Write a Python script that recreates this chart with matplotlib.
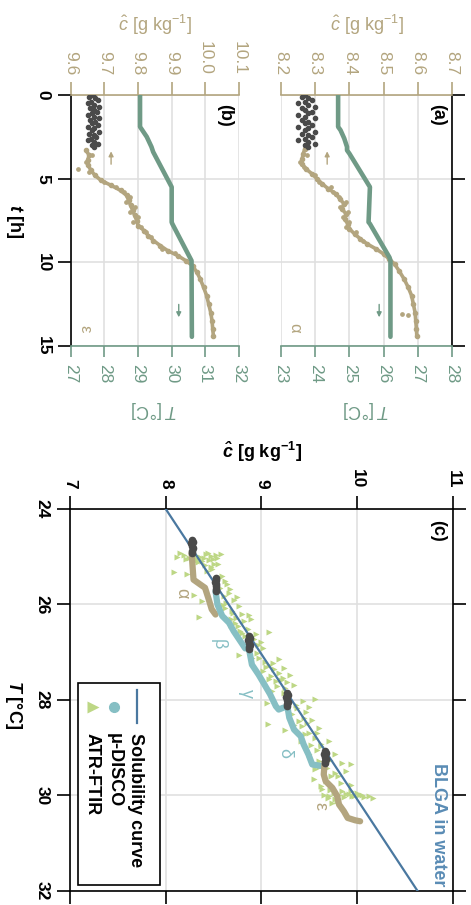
import matplotlib
matplotlib.use('Agg')
import matplotlib.pyplot as plt
import matplotlib.transforms as mtransforms
from matplotlib.patches import Rectangle
from matplotlib.lines import Line2D

plt.rcParams['font.family'] = ['Liberation Sans', 'DejaVu Sans']
plt.rcParams['mathtext.fontset'] = 'custom'
plt.rcParams['mathtext.rm'] = 'Liberation Sans'
plt.rcParams['mathtext.it'] = 'Liberation Sans:italic'
plt.rcParams['mathtext.bf'] = 'Liberation Sans:bold'
plt.rcParams['mathtext.bfit'] = 'Liberation Sans:italic:bold'

# colours
tan = '#b3a57f'
green = '#6f9a86'
dark = '#4a4a4a'
teal = '#86bfc4'
atr_col = '#bdd785'
blue = '#4a78a0'
gridc = '#e0e0e0'

# ---- panel (a): experiment alpha ----
t_gray_a = [0.0, 0.1, 0.2, 0.3, 0.4, 0.5, 0.6, 0.7, 0.8, 0.9, 1.0, 1.1, 1.2, 1.3, 1.4, 1.5,
            1.6, 1.7, 1.8, 1.9, 2.0, 2.1, 2.2, 2.3, 2.4, 2.5, 2.6, 2.7, 2.8, 2.9, 3.0, 3.1]
c_gray_a = [8.27, 8.26, 8.28, 8.29, 8.27, 8.25, 8.28, 8.30, 8.26, 8.27, 8.29, 8.28, 8.25, 8.27, 8.30, 8.26,
            8.28, 8.27, 8.29, 8.25, 8.28, 8.27, 8.30, 8.26, 8.28, 8.29, 8.27, 8.25, 8.28, 8.30, 8.27, 8.28]
t_tan_a = [3.2, 3.5, 3.8, 4.1, 4.4, 4.7, 5.0, 5.3, 5.6, 5.9, 6.2, 6.5, 6.8, 7.1, 7.4, 7.7, 8.0,
           8.3, 8.6, 8.9, 9.2, 9.5, 9.8, 10.1, 10.5, 11.0, 11.5, 12.0, 12.5, 13.0, 13.5, 14.0, 14.4]
c_tan_a = [8.27, 8.265, 8.262, 8.26, 8.272, 8.29, 8.305, 8.32, 8.338, 8.36, 8.372, 8.384, 8.378, 8.39,
           8.386, 8.395, 8.40, 8.415, 8.432, 8.452, 8.478, 8.50, 8.516, 8.532, 8.545, 8.56, 8.572,
           8.582, 8.587, 8.592, 8.594, 8.596, 8.597]
t_tan_a_x = [3.6, 4.0, 4.3, 4.8, 5.2, 5.5, 5.8, 6.1, 6.4, 6.7, 7.0, 7.3, 7.6, 7.9, 8.2, 8.7, 13.1, 13.15]
c_tan_a_x = [8.275, 8.255, 8.268, 8.30, 8.31, 8.345, 8.352, 8.37, 8.39, 8.372, 8.395, 8.382, 8.40, 8.39,
             8.42, 8.44, 8.555, 8.57]
t_T_a = [0, 1.9, 2.1, 2.6, 3.1, 3.3, 3.5, 5.5, 7.6, 7.7, 9.7, 9.9, 14.45]
T_a = [24.67, 24.67, 24.74, 24.85, 24.93, 24.93, 25.0, 25.6, 25.56, 25.6, 26.17, 26.2, 26.2]

# ---- panel (b): experiment epsilon ----
t_gray_b = t_gray_a
c_gray_b = [9.665, 9.655, 9.672, 9.680, 9.660, 9.650, 9.668, 9.685, 9.658, 9.670, 9.678, 9.662, 9.652,
            9.668, 9.684, 9.657, 9.672, 9.664, 9.680, 9.650, 9.670, 9.662, 9.683, 9.655, 9.670, 9.676,
            9.660, 9.650, 9.668, 9.682, 9.664, 9.670]
t_tan_b = [3.3, 3.6, 3.9, 4.2, 4.5, 4.8, 5.1, 5.4, 5.7, 6.0, 6.3, 6.6, 6.9, 7.2, 7.5, 7.8, 8.1, 8.4,
           8.7, 9.0, 9.3, 9.6, 9.9, 10.2, 10.6, 11.0, 11.5, 12.0, 12.5, 13.0, 13.5, 14.0, 14.4]
c_tan_b = [9.645, 9.655, 9.650, 9.652, 9.66, 9.672, 9.69, 9.72, 9.748, 9.766, 9.772, 9.778, 9.784, 9.79,
           9.796, 9.80, 9.818, 9.83, 9.846, 9.866, 9.888, 9.918, 9.942, 9.962, 9.975, 9.985, 9.995,
           10.004, 10.01, 10.016, 10.02, 10.022, 10.024]
t_tan_b_x = [3.6, 4.0, 4.4, 4.6, 5.2, 5.5, 5.8, 6.1, 6.4, 6.7, 7.0, 7.3, 7.6, 7.9, 8.2, 8.5, 9.2, 9.45]
c_tan_b_x = [9.662, 9.645, 9.622, 9.655, 9.70, 9.735, 9.758, 9.775, 9.765, 9.792, 9.776, 9.80, 9.786,
             9.81, 9.825, 9.84, 9.872, 9.91]
t_T_b = [0, 1.9, 2.5, 3.1, 3.4, 5.5, 7.6, 7.7, 9.9, 14.45]
T_b = [29.06, 29.06, 29.26, 29.4, 29.45, 30.0, 30.0, 30.02, 30.59, 30.6]

# ---- panel (c): concentration vs temperature ----
sol_T = [24, 32]
sol_c = [8.0, 10.63]

gray_c = [8.27, 8.28, 8.26, 8.27, 8.28, 8.27, 8.27,
          8.52, 8.53, 8.51, 8.52, 8.53, 8.52, 8.52,
          8.87, 8.88, 8.86, 8.87, 8.88, 8.87, 8.87,
          9.27, 9.28, 9.26, 9.27, 9.28, 9.27, 9.27,
          9.66, 9.67, 9.65, 9.66, 9.67, 9.66, 9.66]
gray_T = [24.64, 24.69, 24.72, 24.77, 24.82, 24.87, 24.92,
          25.44, 25.49, 25.53, 25.58, 25.62, 25.67, 25.72,
          26.66, 26.71, 26.75, 26.80, 26.85, 26.89, 26.94,
          27.85, 27.90, 27.94, 27.99, 28.04, 28.08, 28.13,
          29.06, 29.10, 29.14, 29.19, 29.23, 29.27, 29.31]

alpha_c = [8.27, 8.29, 8.36, 8.41, 8.45, 8.48, 8.52]
alpha_T = [24.92, 25.48, 25.58, 25.65, 25.9, 26.1, 26.21]
beta_c = [8.52, 8.54, 8.59, 8.66, 8.71, 8.78, 8.83]
beta_T = [25.72, 26.0, 26.24, 26.38, 26.56, 26.77, 26.92]
gamma_c = [8.87, 8.90, 8.97, 9.02, 9.09, 9.15, 9.18, 9.23]
gamma_T = [26.94, 27.26, 27.47, 27.64, 27.88, 28.13, 28.2, 28.16]
delta_c = [9.27, 9.29, 9.34, 9.41, 9.44, 9.49, 9.53, 9.62]
delta_T = [28.13, 28.37, 28.62, 28.76, 28.93, 29.14, 29.35, 29.38]
eps_c = [9.66, 9.65, 9.67, 9.74, 9.79, 9.81, 9.86, 9.9, 9.98, 10.03]
eps_T = [29.31, 29.56, 29.7, 29.84, 30.01, 30.19, 30.33, 30.47, 30.52, 30.54]

atr_c = [8.12, 8.19, 8.24, 8.31, 8.36, 8.42, 8.47, 8.52, 8.58, 8.38,
         8.45, 8.50, 8.55, 8.09, 8.29, 8.22, 8.43, 8.38, 8.35, 8.59,
         8.64, 8.66, 8.61, 8.71, 8.76, 8.69, 8.62, 8.87, 8.89, 8.82,
         8.73, 8.75, 9.08, 8.68, 8.78, 8.83, 8.92, 8.96, 9.02, 8.76,
         8.90, 8.97, 9.18, 9.08, 9.13, 9.23, 9.18, 9.30, 9.02, 9.08,
         9.15, 9.22, 9.34, 9.25, 9.11, 9.06, 9.43, 9.56, 9.37, 9.50,
         9.32, 9.44, 9.39, 9.53, 9.07, 9.25, 9.60, 9.50, 9.56, 9.41,
         9.70, 9.62, 9.50, 9.77, 9.72, 9.84, 9.93, 9.56, 9.77, 9.88,
         9.55, 9.67, 9.83, 9.93, 9.63, 9.65, 9.70, 9.76, 9.81, 9.86,
         9.91, 9.97, 10.02, 10.07, 10.12, 10.16, 9.84, 9.93, 9.77, 9.74,
         8.15, 8.21, 8.27, 8.33, 8.40, 8.44, 8.49, 8.54, 8.28, 8.34, 8.41, 8.47,
         8.48, 8.56, 8.62, 8.57, 8.67, 8.74, 8.63, 8.70, 8.80, 8.68, 8.60, 8.72,
         8.80, 8.86, 8.94, 9.00, 8.88, 8.95, 9.04, 9.12, 9.10, 9.20, 9.27, 9.16, 9.05, 9.24,
         9.28, 9.36, 9.46, 9.34, 9.42, 9.48, 9.58, 9.45, 9.52, 9.62, 9.58, 9.66, 9.68, 9.60,
         9.60, 9.68, 9.73, 9.80, 9.62, 9.72, 9.88, 9.95, 10.00, 10.05, 9.79, 9.69]
atr_T = [25.00, 24.97, 25.02, 24.97, 25.01, 24.95, 24.99, 24.97, 24.95, 25.09,
         25.07, 25.15, 25.16, 25.32, 25.81, 25.37, 25.30, 25.93, 26.27, 25.41,
         25.58, 25.76, 25.83, 25.90, 26.04, 26.14, 26.07, 26.21, 26.31, 26.35,
         26.28, 26.45, 26.57, 26.42, 26.56, 26.66, 26.73, 26.84, 26.91, 27.05,
         27.12, 27.12, 27.15, 27.26, 27.36, 27.33, 27.43, 27.47, 27.40, 27.57,
         27.61, 27.54, 27.68, 27.75, 27.81, 28.06, 28.02, 27.97, 28.16, 28.15,
         28.30, 28.37, 28.44, 28.41, 28.51, 28.62, 28.58, 28.69, 28.79, 28.86,
         28.86, 28.97, 29.14, 29.14, 29.25, 29.32, 29.35, 29.45, 29.52, 29.49,
         29.66, 29.70, 29.73, 29.77, 29.87, 29.98, 30.01, 29.94, 29.99, 30.03,
         29.96, 30.01, 29.98, 30.03, 30.01, 30.06, 29.91, 29.91, 30.08, 30.15,
         24.93, 25.04, 24.92, 25.05, 25.03, 24.92, 25.05, 25.02, 25.12, 25.10, 25.17, 25.22,
         25.26, 25.45, 25.50, 25.65, 25.68, 25.85, 25.97, 26.18, 26.20, 26.30, 26.02, 26.38,
         26.60, 26.52, 26.62, 26.78, 26.98, 27.02, 27.20, 27.22, 27.50, 27.58, 27.62, 27.70, 27.30, 27.85,
         28.05, 28.10, 28.25, 28.52, 28.55, 28.48, 28.70, 28.72, 28.95, 28.92, 29.05, 29.10, 29.22, 29.28,
         29.40, 29.42, 29.60, 29.60, 29.80, 29.88, 29.96, 30.02, 29.95, 30.00, 30.12, 30.05]

t_ticks = [0, 5, 10, 15]

fig = plt.figure(figsize=(4.71, 9.05), dpi=100)

tk = dict(direction='out', length=9.5, width=1.2)


def time_panel(rect, clim, Tlim, t_gray, c_gray, t_tan, c_tan, t_x, c_x, t_T, T, left_axis,
               tag, greek, greek_pos, arrow_c, arrow_T):
    ax = fig.add_axes(rect)
    ax.set_facecolor('none')
    axT = ax.twiny()

    ax.set_xlim(*clim)
    ax.set_ylim(15, 0)
    ax.set_axisbelow(True)
    cticks = [round(clim[0] + 0.1 * i, 1) for i in range(6)]
    ax.xaxis.tick_top()
    ax.set_xticks(cticks)
    ax.set_xticklabels(['%.1f' % v for v in cticks], rotation=270, fontsize=12.5, color=tan)
    ax.tick_params(axis='x', top=True, bottom=False, labeltop=True, labelbottom=False,
                   colors=tan, labelcolor=tan, pad=5, **tk)
    ax.set_yticks(t_ticks)
    ax.grid(True, color=gridc, lw=1.2)
    for s in ['left', 'right', 'bottom']:
        ax.spines[s].set_visible(False)
    ax.spines['top'].set_color(tan)
    ax.spines['top'].set_linewidth(1.2)
    if left_axis:
        ax.spines['left'].set_visible(True)
        ax.spines['left'].set_linewidth(1.2)
        ax.yaxis.tick_left()
        ax.set_yticklabels([str(v) for v in t_ticks], rotation=270, fontsize=12.5,
                           fontweight='bold', va='center')
        ax.tick_params(axis='y', pad=5, **tk)
    else:
        ax.spines['right'].set_visible(True)
        ax.spines['right'].set_linewidth(1.2)
        ax.yaxis.tick_right()
        ax.tick_params(axis='y', labelright=False, **tk)

    ax.plot(c_tan, t_tan, color=tan, lw=2.6, solid_capstyle='round', zorder=3)
    ax.plot(c_tan, t_tan, 'o', color=tan, ms=3.0, zorder=3)
    ax.plot(c_x, t_x, 'o', color=tan, ms=2.4, zorder=3)
    ax.plot(c_gray, t_gray, 'o', color=dark, ms=3.0, zorder=4)
    ax.annotate('', xy=(arrow_c, 3.2), xytext=(arrow_c, 4.3),
                arrowprops=dict(arrowstyle='-|>', color=tan, lw=1, mutation_scale=7))
    ax.text(0.915, 0.92, tag, transform=ax.transAxes, rotation=270, fontsize=13,
            fontweight='bold', ha='center', va='center')
    ax.text(greek_pos[0], greek_pos[1], greek, color=tan, rotation=270, fontsize=12,
            ha='center', va='center')

    axT.set_xlim(*Tlim)
    Tticks = list(range(Tlim[0], Tlim[1] + 1))
    axT.set_xticks(Tticks)
    axT.set_xticklabels([str(v) for v in Tticks], rotation=270, fontsize=12.5, color=green)
    axT.xaxis.tick_bottom()
    axT.tick_params(axis='x', top=False, bottom=True, labeltop=False, labelbottom=True,
                    colors=green, labelcolor=green, pad=5, direction='out', length=8, width=1.2)
    for s in ['left', 'right', 'top']:
        axT.spines[s].set_visible(False)
    axT.spines['bottom'].set_visible(True)
    axT.spines['bottom'].set_color(green)
    axT.spines['bottom'].set_linewidth(1.2)
    axT.plot(T, t_T, color=green, lw=3.3, solid_capstyle='round', zorder=2)
    axT.annotate('', xy=(arrow_T, 13.45), xytext=(arrow_T, 12.35),
                 arrowprops=dict(arrowstyle='-|>', color=green, lw=1, mutation_scale=7))
    return ax


ax_a = time_panel([0.5966, 0.6177, 0.3631, 0.2773], (8.2, 8.7), (23, 28),
                  t_gray_a, c_gray_a, t_tan_a, c_tan_a, t_tan_a_x, c_tan_a_x, t_T_a, T_a,
                  False, '(a)', 'α', (8.241, 13.9), 8.335, 25.87)
ax_b = time_panel([0.1501, 0.6177, 0.3573, 0.2773], (9.6, 10.1), (27, 32),
                  t_gray_b, c_gray_b, t_tan_b, c_tan_b, t_tan_b_x, c_tan_b_x, t_T_b, T_b,
                  True, '(b)', 'ε', (9.642, 13.97), 9.72, 30.21)

# t gridlines continue across the gap between (b) and (a)
gap = mtransforms.blended_transform_factory(fig.transFigure, ax_a.transData)
for tv in [5, 10]:
    fig.add_artist(Line2D([239 / 471, 281 / 471], [tv, tv], transform=gap, color=gridc, lw=1.2))

for xc in [0.7781, 0.3291]:
    fig.text(xc, 0.9724, r'$\hat{c}$ [g kg$^{-1}$]', color=tan, fontsize=13, ha='center', va='center')
    fig.text(xc, 0.5470, r'$T$ [°C]', color=green, fontsize=13, ha='center', va='center', rotation=180)
fig.text(0.0318, 0.7558, r'$\mathbfit{t}\ \mathbf{[h]}$', fontsize=13, rotation=270, ha='center', va='center')

# ---- panel (c) ----
ax_c = fig.add_axes([0.1486, 0.01547, 0.8132, 0.4221])
ax_c.set_xlim(7, 11)
ax_c.set_ylim(32, 24)
ax_c.set_axisbelow(True)
ax_c.set_xticks([7, 8, 9, 10, 11])
ax_c.set_xticklabels(['7', '8', '9', '10', '11'], rotation=270, fontsize=12.5, fontweight='bold')
ax_c.set_yticks([24, 26, 28, 30, 32])
ax_c.set_yticklabels(['24', '26', '28', '30', '32'], rotation=270, fontsize=12.5,
                     fontweight='bold', va='center')
ax_c.tick_params(top=True, bottom=True, left=True, right=True, labeltop=True, labelbottom=False,
                 labelleft=True, labelright=False, pad=5, **tk)
ax_c.grid(True, color=gridc, lw=1.2)
for s in ax_c.spines.values():
    s.set_linewidth(1.2)

ax_c.plot(atr_c, atr_T, '>', color=atr_col, ms=4.2, mec='none', zorder=2)
ax_c.plot(sol_c, sol_T, color=blue, lw=1.6, zorder=3)
for cc, TT, col in [(alpha_c, alpha_T, tan), (beta_c, beta_T, teal), (gamma_c, gamma_T, teal),
                    (delta_c, delta_T, teal), (eps_c, eps_T, tan)]:
    ax_c.plot(cc, TT, color=col, lw=4.5, solid_capstyle='round', solid_joinstyle='round', zorder=4)
ax_c.plot(gray_c, gray_T, 'o', color=dark, ms=4.5, zorder=5)

for txt, cx, Tx, col in [('α', 8.17, 25.77, tan), ('β', 8.55, 26.84, teal), ('γ', 8.84, 27.86, teal),
                         ('δ', 9.24, 29.1, teal), ('ε', 9.61, 30.22, tan)]:
    ax_c.text(cx, Tx, txt, color=col, rotation=270, fontsize=13, ha='center', va='center')

ax_c.text(0.9634, 0.1728, 'BLGA in water', color='#5a8cb5', fontsize=13, fontweight='bold',
          rotation=270, ha='center', va='center', transform=ax_c.transAxes)
ax_c.text(0.961, 0.942, '(c)', transform=ax_c.transAxes, rotation=270, fontsize=13,
          fontweight='bold', ha='center', va='center')

# legend, drawn rotated like the rest of the figure
ax_c.add_patch(Rectangle((0.0209, 0.0157), 0.2141, 0.5288, transform=ax_c.transAxes,
                         fill=True, facecolor='white', edgecolor='black', lw=1.2, zorder=6))
ax_c.add_line(Line2D([0.174, 0.174], [0.44, 0.526], transform=ax_c.transAxes, color=blue,
                     lw=1.6, zorder=7))
ax_c.plot([0.1149], [0.4817], 'o', color=teal, ms=7, transform=ax_c.transAxes, zorder=7, clip_on=False)
ax_c.plot([0.060], [0.4817], '>', color=atr_col, ms=8, mec='none', transform=ax_c.transAxes,
          zorder=7, clip_on=False)
for xl, txt in [(0.1723, 'Solubility curve'), (0.1149, 'μ-DISCO'), (0.0574, 'ATR-FTIR')]:
    ax_c.text(xl, 0.4136, txt, transform=ax_c.transAxes, rotation=270, fontsize=13,
              fontweight='bold', ha='center', va='top', zorder=8)

fig.text(0.5563, 0.5006, r'$\mathbfit{\hat{c}}$ $\mathbf{[g\ kg^{-1}]}$', fontsize=13,
         ha='center', va='center')
fig.text(0.0297, 0.2210, r'$\mathbfit{T}\ \mathbf{[°C]}$', fontsize=13, rotation=270,
         ha='center', va='center')

plt.savefig('out.png', dpi=100)
